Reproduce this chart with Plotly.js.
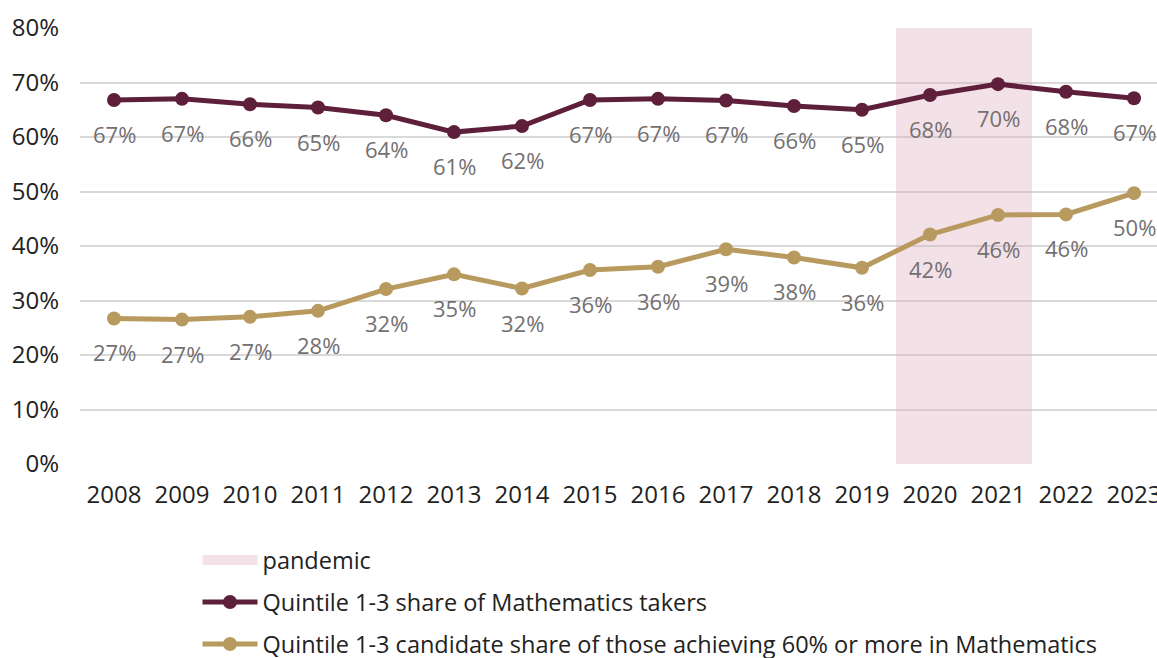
<!DOCTYPE html>
<html><head><meta charset="utf-8">
<script src="https://cdn.plot.ly/plotly-3.0.1.min.js"></script>
<style>html,body{margin:0;padding:0;overflow:hidden;background:#fff;width:1157px;height:658px}</style>
</head><body><div id="chart"></div>
<script>
const years = ["2008","2009","2010","2011","2012","2013","2014","2015","2016","2017","2018","2019","2020","2021","2022","2023"];
const takersShare = [0.668,0.670,0.660,0.654,0.640,0.609,0.620,0.668,0.670,0.667,0.657,0.650,0.677,0.697,0.683,0.671];
const achieversShare = [0.267,0.265,0.270,0.281,0.321,0.348,0.322,0.356,0.362,0.394,0.379,0.360,0.421,0.457,0.458,0.497];
const pandemicYears = ["2020","2021"];
const pandemicTop = [0.8,0.8];
const yTicks = [0,0.1,0.2,0.3,0.4,0.5,0.6,0.7,0.8];

const FONT = "'Open Sans', sans-serif";
const maroon = "#5e1f3b";
const gold = "#b89a5f";
const labelColor = "#737070";
const pandemicFill = "rgba(222,170,190,0.35)";
const pandemicLegend = "#f3e2e8";

const traces = [
  {type:"bar", x:pandemicYears, y:pandemicTop, width:1, showlegend:false,
   marker:{color:pandemicFill, line:{width:0}}, hoverinfo:"skip"},
  {type:"scatter", mode:"lines", x:[null], y:[null], name:"pandemic",
   line:{color:pandemicLegend, width:12}, legendgroup:"a"},
  {type:"scatter", mode:"lines+markers", x:years, y:takersShare, name:"Quintile 1-3 share of Mathematics takers",
   line:{color:maroon, width:5}, marker:{color:maroon, size:14}, legendgroup:"b"},
  {type:"scatter", mode:"lines+markers", x:years, y:achieversShare, name:"Quintile 1-3 candidate share of those achieving 60% or more in Mathematics",
   line:{color:gold, width:5}, marker:{color:gold, size:14}, legendgroup:"c"}
];

const annotations = [];
[takersShare, achieversShare].forEach(series => {
  series.forEach((v,i) => {
    annotations.push({x:years.indexOf(years[i]), y:v, text:Math.round(v*100)+"%", showarrow:false,
      yshift:-34, xanchor:"center", yanchor:"middle",
      font:{family:FONT, size:22, color:labelColor}});
  });
});

const layout = {
  width:1180, height:720,
  margin:{l:80, r:12, t:28, b:256},
  paper_bgcolor:"#fff", plot_bgcolor:"#fff",
  font:{family:FONT, size:20, color:"#222"},
  bargap:0,
  showlegend:true,
  xaxis:{type:"category", categoryorder:"array", categoryarray:years, range:[-0.5, years.length-0.5],
    showgrid:false, zeroline:false, showline:false, ticks:"", ticklabelstandoff:14,
    tickfont:{family:FONT, size:24, color:"#222"}},
  yaxis:{range:[0,0.8], tickvals:yTicks, tickformat:".0%", showgrid:true, gridcolor:"#d9d9d9", gridwidth:2,
    zeroline:false, showline:false, ticks:"", ticklabelstandoff:20,
    tickfont:{family:FONT, size:24, color:"#222"}},
  legend:{x:0.108, y:-0.170, xanchor:"left", yanchor:"top", orientation:"v",
    traceorder:"grouped", tracegroupgap:8.5, itemwidth:55,
    font:{family:FONT, size:23.5, color:"#222"}, bgcolor:"rgba(0,0,0,0)"},
  annotations:annotations
};

Plotly.newPlot("chart", traces, layout, {displayModeBar:false, staticPlot:true});
</script></body></html>
